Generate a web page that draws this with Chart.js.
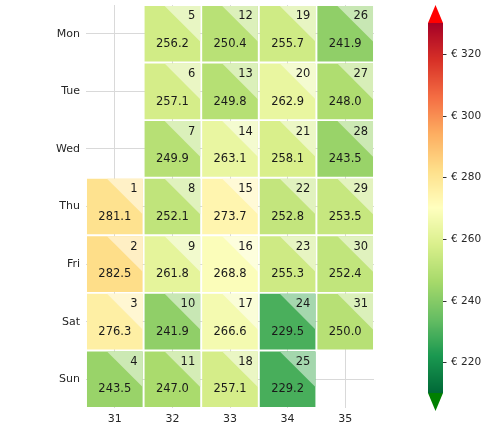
<!DOCTYPE html>
<html>
<head>
<meta charset="utf-8">
<script src="https://cdn.jsdelivr.net/npm/chart.js@4/dist/chart.umd.min.js"></script>
<style>
  html, body { margin: 0; padding: 0; background: #ffffff; }
  #wrap { width: 499px; height: 430px; position: relative; }
</style>
</head>
<body>
<div id="wrap"><canvas id="c" width="499" height="430"></canvas></div>
<script>
// ---- data ----
const weeks = ['31', '32', '33', '34', '35'];
const days = ['Mon', 'Tue', 'Wed', 'Thu', 'Fri', 'Sat', 'Sun'];
// values per week (Mon..Sun)
const week31 = [null, null, null, 281.1, 282.5, 276.3, 243.5];
const week32 = [256.2, 257.1, 249.9, 252.1, 261.8, 241.9, 247.0];
const week33 = [250.4, 249.8, 263.1, 273.7, 268.8, 266.6, 257.1];
const week34 = [255.7, 262.9, 258.1, 252.8, 255.3, 229.5, 229.2];
const week35 = [241.9, 248.0, 243.5, 253.5, 252.4, 250.0, null];
// day-of-month per week (Mon..Sun)
const dates31 = [null, null, null, 1, 2, 3, 4];
const dates32 = [5, 6, 7, 8, 9, 10, 11];
const dates33 = [12, 13, 14, 15, 16, 17, 18];
const dates34 = [19, 20, 21, 22, 23, 24, 25];
const dates35 = [26, 27, 28, 29, 30, 31, null];
const colorbarTicks = [220, 240, 260, 280, 300, 320];
const colorMin = 210;
const colorMax = 330;
const currencyPrefix = '€ ';

const weekValues = [week31, week32, week33, week34, week35];
const weekDates = [dates31, dates32, dates33, dates34, dates35];

// ---- colormap RdYlGn_r ----
const rdylgn = ['#a50026','#d73027','#f46d43','#fdae61','#fee08b','#ffffbf','#d9ef8b','#a6d96a','#66bd63','#1a9850','#006837'];
function hex2rgb(h) { return [parseInt(h.slice(1,3),16), parseInt(h.slice(3,5),16), parseInt(h.slice(5,7),16)]; }
const stops = rdylgn.slice().reverse().map(hex2rgb);
function cmap(v) {
  let t = (v - colorMin) / (colorMax - colorMin);
  t = Math.max(0, Math.min(1, t));
  const p = t * (stops.length - 1);
  const i = Math.min(Math.floor(p), stops.length - 2);
  const f = p - i;
  const a = stops[i], b = stops[i + 1];
  return a.map((c, k) => Math.round(c + (b[k] - c) * f));
}
function rgbStr(c) { return 'rgb(' + c.join(',') + ')'; }
function lighten(c) { return c.map(x => Math.round(x + (255 - x) * 0.5)); }

const half = 0.483;
const datasets = days.map((d, di) => ({
  label: d,
  data: weekValues.map(wv => wv[di] == null ? null : [di - half, di + half]),
  backgroundColor: weekValues.map(wv => wv[di] == null ? 'transparent' : rgbStr(cmap(wv[di]))),
  borderWidth: 0,
  borderSkipped: false,
  grouped: false,
  categoryPercentage: 1.0,
  barPercentage: 0.966
}));

const FONT = '"DejaVu Sans", sans-serif';

const cellPlugin = {
  id: 'cellDecor',
  afterDatasetsDraw(chart) {
    const ctx = chart.ctx;
    ctx.save();
    days.forEach((d, di) => {
      const meta = chart.getDatasetMeta(di);
      meta.data.forEach((el, wi) => {
        const v = weekValues[wi][di];
        if (v == null) return;
        const left = el.x - el.width / 2, right = el.x + el.width / 2;
        const top = Math.min(el.y, el.base), bottom = Math.max(el.y, el.base);
        const w = right - left, h = bottom - top;
        // triangle
        ctx.beginPath();
        ctx.moveTo(left + 0.36 * w, top);
        ctx.lineTo(right, top);
        ctx.lineTo(right, top + 0.64 * h);
        ctx.closePath();
        ctx.fillStyle = rgbStr(lighten(cmap(v)));
        ctx.fill();
        // texts
        ctx.fillStyle = '#1a1a1a';
        ctx.font = '11.5px ' + FONT;
        ctx.textBaseline = 'middle';
        ctx.textAlign = 'right';
        ctx.fillText(String(weekDates[wi][di]), right - 5, top + 10.5);
        ctx.textAlign = 'center';
        ctx.fillText(v.toFixed(1), el.x, top + 0.685 * h);
      });
    });
    ctx.restore();
  }
};

const colorbarPlugin = {
  id: 'colorbar',
  afterDraw(chart) {
    const ctx = chart.ctx;
    const x0 = 428, x1 = 443, yTop = 23, yBot = 393;
    const yOf = v => yBot - (v - colorMin) / (colorMax - colorMin) * (yBot - yTop);
    ctx.save();
    for (let y = yTop; y < yBot; y++) {
      const v = colorMin + (yBot - (y + 0.5)) / (yBot - yTop) * (colorMax - colorMin);
      ctx.fillStyle = rgbStr(cmap(v));
      ctx.fillRect(x0, y, x1 - x0, 1);
    }
    // extensions
    ctx.fillStyle = '#ff0000';
    ctx.beginPath();
    ctx.moveTo(x0, yTop); ctx.lineTo(x1, yTop); ctx.lineTo((x0 + x1) / 2, 5); ctx.closePath(); ctx.fill();
    ctx.fillStyle = '#008000';
    ctx.beginPath();
    ctx.moveTo(x0, yBot); ctx.lineTo(x1, yBot); ctx.lineTo((x0 + x1) / 2, 411); ctx.closePath(); ctx.fill();
    // ticks
    ctx.strokeStyle = '#333';
    ctx.lineWidth = 1;
    ctx.fillStyle = '#262626';
    ctx.font = '10.5px ' + FONT;
    ctx.textAlign = 'left';
    ctx.textBaseline = 'middle';
    colorbarTicks.forEach(t => {
      const y = Math.round(yOf(t)) + 0.5;
      ctx.beginPath(); ctx.moveTo(x1, y); ctx.lineTo(x1 + 3.5, y); ctx.stroke();
      ctx.fillText(currencyPrefix + t, x1 + 8, y);
    });
    ctx.restore();
  }
};

new Chart(document.getElementById('c'), {
  type: 'bar',
  data: { labels: weeks, datasets },
  options: {
    responsive: false,
    animation: false,
    events: [],
    layout: { padding: { top: 5, right: 125, left: 0, bottom: 0 } },
    plugins: { legend: { display: false }, tooltip: { enabled: false } },
    scales: {
      x: {
        type: 'category',
        offset: true,
        grid: { offset: false, color: '#d9d9d9', lineWidth: 1, drawTicks: false },
        border: { display: false },
        ticks: { color: '#262626', font: { family: FONT, size: 11 }, padding: 5 },
        afterFit: s => { s.height = 22; s.paddingLeft = 0; s.paddingRight = 0; }
      },
      y: {
        type: 'linear',
        min: -0.5,
        max: 6.5,
        reverse: true,
        grid: { color: '#d9d9d9', lineWidth: 1, drawTicks: false },
        border: { display: false },
        afterBuildTicks: s => { s.ticks = days.map((d, i) => ({ value: i })); },
        ticks: {
          color: '#262626',
          font: { family: FONT, size: 11 },
          padding: 6,
          callback: (v) => days[v] ?? ''
        },
        afterFit: s => { s.width = 86; s.paddingTop = 0; s.paddingBottom = 0; }
      }
    }
  },
  plugins: [cellPlugin, colorbarPlugin]
});
</script>
</body>
</html>
